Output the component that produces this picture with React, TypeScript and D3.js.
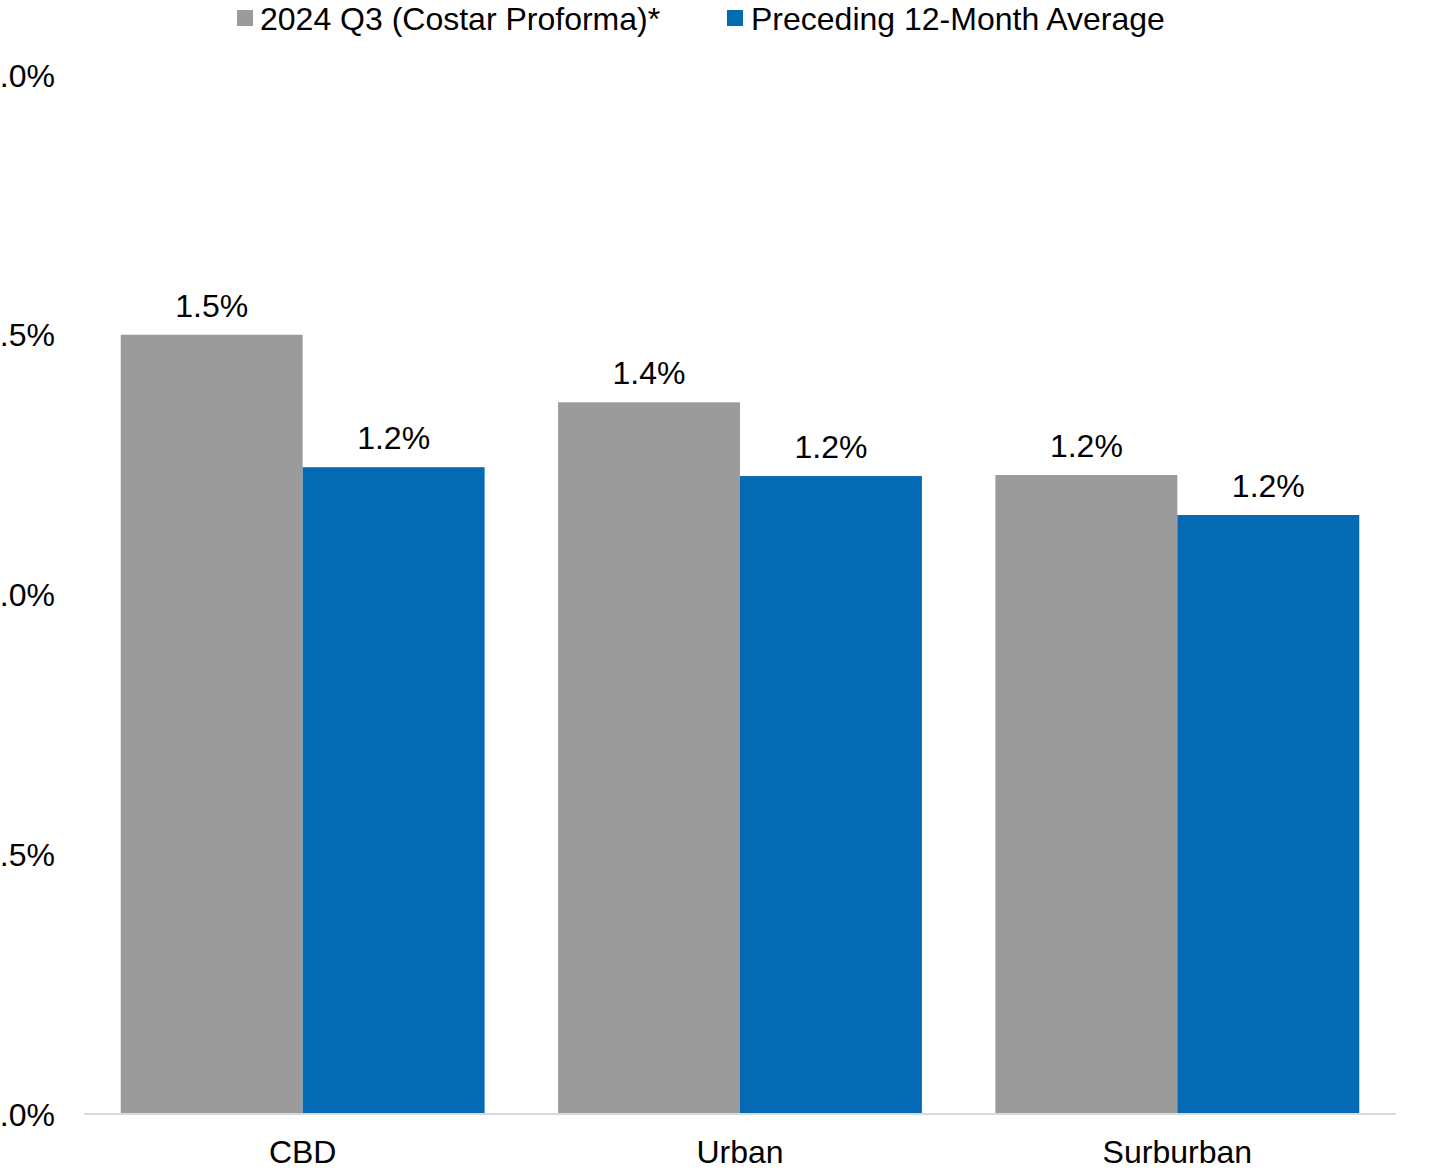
import React from "react";
import * as d3 from "d3";

const categories = ["CBD", "Urban", "Surburban"];
const seriesNames = ["2024 Q3 (Costar Proforma)*", "Preceding 12-Month Average"];
const q3Values = [1.5, 1.37, 1.23];
const avgValues = [1.245, 1.228, 1.153];
const valueLabels = [["1.5%", "1.2%"], ["1.4%", "1.2%"], ["1.2%", "1.2%"]];
const yTicks = [0, 0.5, 1.0, 1.5, 2.0];
const colors = ["#9B9B9B", "#046AB4"];

const W = 1447, H = 1173;
const FONT = "'Liberation Sans', Arial, sans-serif";
const FS = 32;

export default function App() {
  const y = d3.scaleLinear().domain([0, 2]).range([1114, 75]);
  const x0 = d3.scaleBand().domain(categories).range([84, 1396]).paddingInner(0.168).paddingOuter(0.084);
  const x1 = d3.scaleBand().domain(["0", "1"]).range([0, x0.bandwidth()]);
  const series = [q3Values, avgValues];
  return (
    <svg width={W} height={H} style={{ position: "absolute", left: 0, top: 0, background: "#fff" }} fontFamily={FONT}>
      {yTicks.map((t) => (
        <text key={t} x={55} y={y(t)} dy="0.36em" textAnchor="end" fontSize={FS} fill="#000">
          {t.toFixed(1) + "%"}
        </text>
      ))}
      {categories.map((c, ci) =>
        series.map((s, si) => {
          const bx = (x0(c) as number) + (x1(String(si)) as number);
          const bw = x1.bandwidth();
          return (
            <g key={c + si}>
              <rect x={bx} y={y(s[ci])} width={bw} height={y(0) - y(s[ci])} fill={colors[si]} />
              <text x={bx + bw / 2} y={y(s[ci]) - 18} textAnchor="middle" fontSize={FS} fill="#000">
                {valueLabels[ci][si]}
              </text>
            </g>
          );
        })
      )}
      <line x1={84} x2={1396} y1={y(0)} y2={y(0)} stroke="#D9D9D9" strokeWidth={2} />
      {categories.map((c) => (
        <text key={c} x={(x0(c) as number) + x0.bandwidth() / 2} y={1163} textAnchor="middle" fontSize={FS} fill="#000">
          {c}
        </text>
      ))}
      <rect x={237} y={10} width={16} height={16} fill={colors[0]} />
      <text x={260} y={30} fontSize={FS} fill="#000">{seriesNames[0]}</text>
      <rect x={727} y={10} width={16} height={16} fill={colors[1]} />
      <text x={751} y={30} fontSize={FS} fill="#000">{seriesNames[1]}</text>
    </svg>
  );
}
